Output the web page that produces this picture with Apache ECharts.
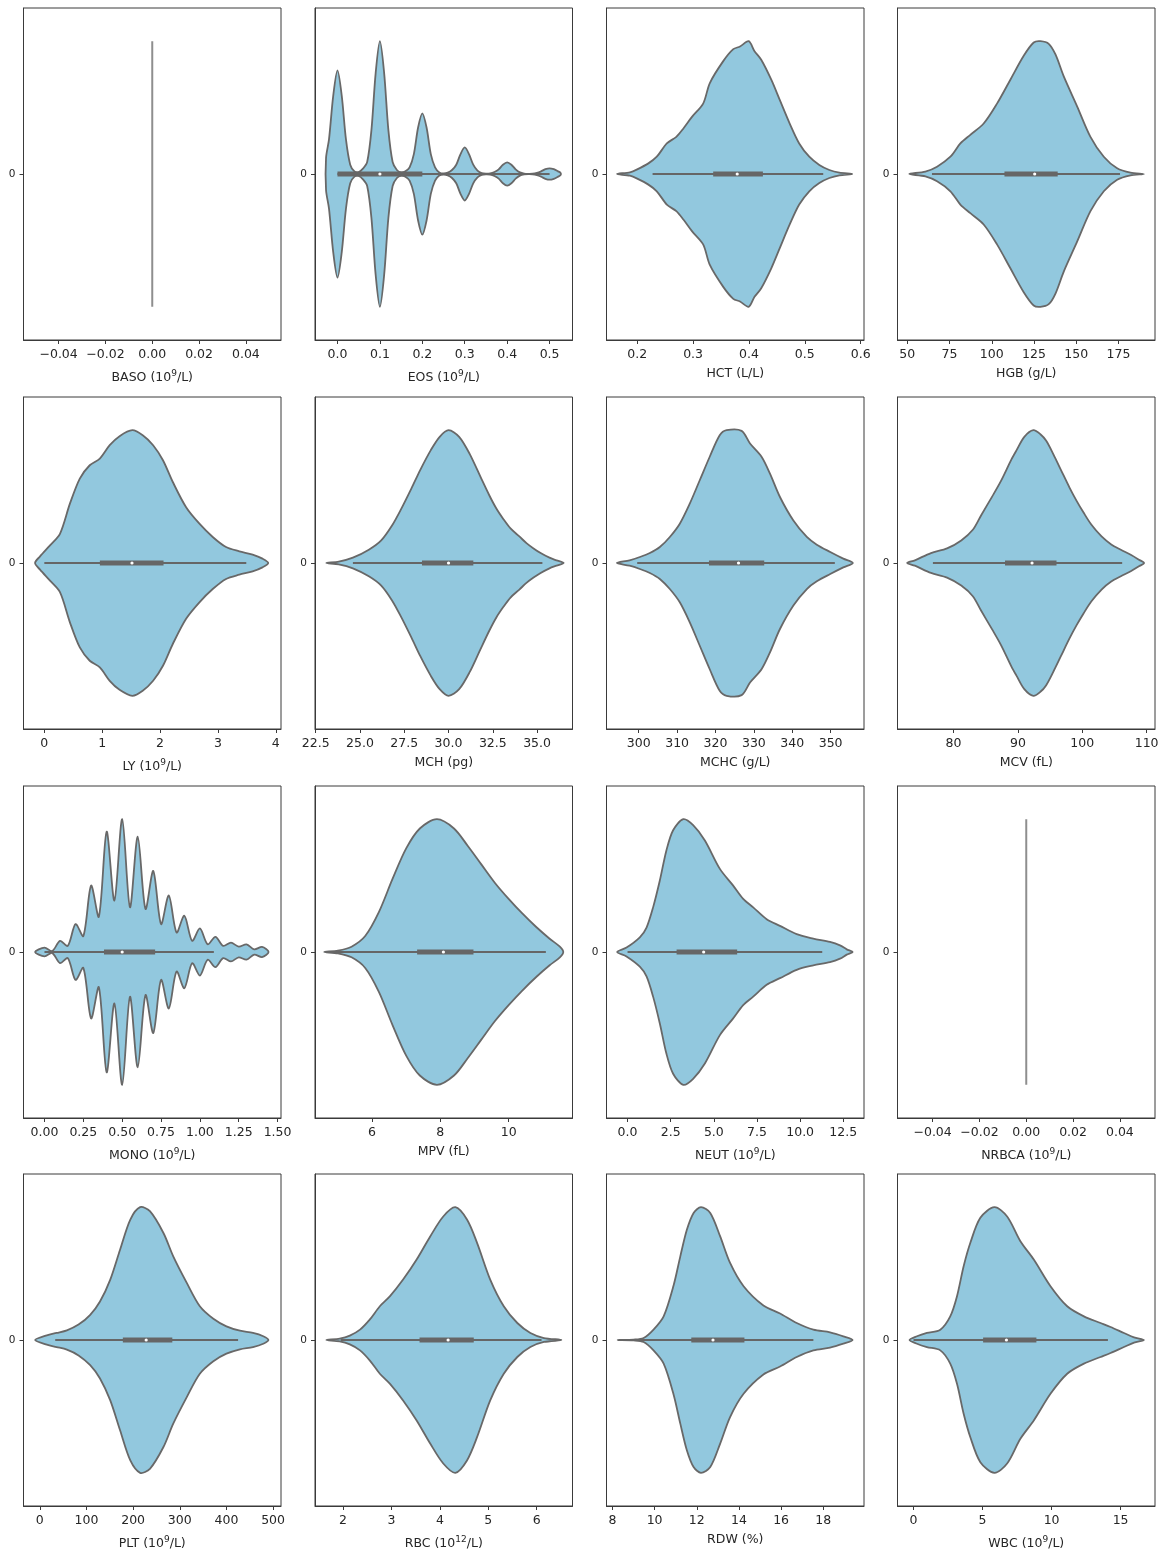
<!DOCTYPE html>
<html>
<head>
<meta charset="utf-8">
<script src="https://cdn.jsdelivr.net/npm/echarts@6/dist/echarts.min.js"></script>
<style>
  html, body { margin: 0; padding: 0; background: #ffffff; }
  #chart { width: 1167px; height: 1553px; }
</style>
</head>
<body>
<div id="chart"></div>
<script>
// ---- Blood count variables, one violin per panel (row-major order) ----
const variableNames = ['BASO', 'EOS', 'HCT', 'HGB', 'LY', 'MCH', 'MCHC', 'MCV',
                       'MONO', 'MPV', 'NEUT', 'NRBCA', 'PLT', 'RBC', 'RDW', 'WBC'];
const axisTitles = ['BASO (10⁹/L)', 'EOS (10⁹/L)', 'HCT (L/L)', 'HGB (g/L)',
                    'LY (10⁹/L)', 'MCH (pg)', 'MCHC (g/L)', 'MCV (fL)',
                    'MONO (10⁹/L)', 'MPV (fL)', 'NEUT (10⁹/L)', 'NRBCA (10⁹/L)',
                    'PLT (10⁹/L)', 'RBC (10¹²/L)', 'RDW (%)', 'WBC (10⁹/L)'];

// Axis limits and tick values of each panel
const axisRanges = [[-0.055, 0.055], [-0.053, 0.554], [0.145, 0.606], [44.2, 196.6],
                    [-0.36, 4.09], [22.46, 37.0], [291.6, 358.7], [71.3, 111.3],
                    [-0.135, 1.522], [4.33, 11.87], [-1.22, 13.7], [-0.055, 0.055],
                    [-35, 517], [1.42, 6.74], [7.72, 19.93], [-1.16, 17.49]];
const tickValues = [[-0.04, -0.02, 0, 0.02, 0.04], [0, 0.1, 0.2, 0.3, 0.4, 0.5],
                    [0.2, 0.3, 0.4, 0.5, 0.6], [50, 75, 100, 125, 150, 175],
                    [0, 1, 2, 3, 4], [22.5, 25, 27.5, 30, 32.5, 35],
                    [300, 310, 320, 330, 340, 350], [80, 90, 100, 110],
                    [0, 0.25, 0.5, 0.75, 1.0, 1.25, 1.5], [6, 8, 10],
                    [0, 2.5, 5, 7.5, 10, 12.5], [-0.04, -0.02, 0, 0.02, 0.04],
                    [0, 100, 200, 300, 400, 500], [2, 3, 4, 5, 6],
                    [8, 10, 12, 14, 16, 18], [0, 5, 10, 15]];
const tickDecimals = [2, 1, 1, 0, 0, 1, 0, 0, 2, 0, 1, 2, 0, 0, 0, 0];

// ---- Kernel density profiles: value positions and relative width (1 = widest) ----
const basoValues = [0];
const basoDensity = [1];

const eosValues = [-0.027, -0.02, -0.01, 0, 0.01, 0.02, 0.03, 0.04, 0.05, 0.06, 0.07, 0.08, 0.09,
                   0.10, 0.11, 0.12, 0.13, 0.14, 0.15, 0.16, 0.17, 0.18, 0.19, 0.20, 0.21, 0.22,
                   0.23, 0.24, 0.25, 0.26, 0.27, 0.28, 0.29, 0.30, 0.31, 0.32, 0.33, 0.34, 0.35,
                   0.36, 0.37, 0.38, 0.39, 0.40, 0.41, 0.42, 0.43, 0.44, 0.45, 0.46, 0.47, 0.48,
                   0.49, 0.50, 0.51, 0.52, 0.526];
const eosDensity = [0.12, 0.26, 0.59, 0.78, 0.59, 0.26, 0.07, 0.02, 0.015, 0.04, 0.09, 0.33, 0.76,
                    1.0, 0.76, 0.33, 0.09, 0.03, 0.012, 0.02, 0.05, 0.15, 0.35, 0.457, 0.35, 0.15,
                    0.05, 0.012, 0.004, 0.01, 0.03, 0.07, 0.15, 0.2, 0.15, 0.07, 0.025, 0.006, 0.002,
                    0.004, 0.015, 0.035, 0.07, 0.088, 0.07, 0.035, 0.012, 0.003, 0.001, 0.002, 0.008, 0.02,
                    0.036, 0.043, 0.036, 0.02, 0.008];

const hctValues = [0.164, 0.187, 0.2, 0.22, 0.235, 0.253, 0.27, 0.283, 0.298, 0.318, 0.33, 0.354,
                   0.372, 0.384, 0.3995, 0.41, 0.422, 0.44, 0.455, 0.473, 0.49, 0.508, 0.526,
                   0.544, 0.562, 0.585];
const hctDensity = [0, 0.013, 0.035, 0.08, 0.13, 0.23, 0.28, 0.345, 0.43, 0.53, 0.685, 0.85,
                    0.94, 0.96, 1.0, 0.925, 0.86, 0.71, 0.56, 0.38, 0.23, 0.13, 0.068,
                    0.03, 0.01, 0];

const hgbValues = [51.2, 60.7, 67.6, 75.5, 81.4, 87.3, 95.2, 103.1, 111, 118.9, 124.8, 128.8,
                   133.7, 137.7, 142.6, 150.5, 158.4, 166.3, 174.2, 182.1, 190];
const hgbDensity = [0, 0.018, 0.055, 0.13, 0.23, 0.295, 0.38, 0.53, 0.71, 0.89, 0.99, 1.0,
                    0.98, 0.9, 0.735, 0.51, 0.28, 0.13, 0.043, 0.01, 0];

const lyValues = [-0.16, -0.074, 0.098, 0.27, 0.442, 0.613, 0.785, 0.959, 1.13, 1.3, 1.52, 1.70,
                  1.88, 2.05, 2.22, 2.45, 2.68, 2.91, 3.14, 3.37, 3.6, 3.77, 3.87];
const lyDensity = [0, 0.05, 0.133, 0.22, 0.447, 0.636, 0.736, 0.786, 0.887, 0.955, 1.0, 0.962,
                   0.887, 0.774, 0.61, 0.42, 0.296, 0.196, 0.12, 0.088, 0.063, 0.033, 0];

const mchValues = [23.1, 23.8, 24.6, 25.5, 26.2, 26.8, 27.3, 27.9, 28.4, 29.0, 29.5, 30.0, 30.6,
                   31.2, 31.8, 32.3, 32.7, 33.1, 33.5, 34.0, 34.4, 34.8, 35.2, 35.7, 36.1, 36.5];
const mchDensity = [0, 0.01, 0.04, 0.1, 0.17, 0.28, 0.4, 0.56, 0.7, 0.85, 0.95, 1.0, 0.95,
                    0.82, 0.65, 0.51, 0.41, 0.33, 0.26, 0.2, 0.15, 0.11, 0.075, 0.04, 0.02, 0];

const mchcValues = [294.3, 297.6, 300.3, 302.9, 305.5, 308.1, 310.7, 313.3, 315.9, 318.5, 321.1,
                    322.9, 326.8, 329, 332, 334.2, 336.8, 340.3, 343.8, 346.4, 349.9, 353.3, 355.8];
const mchcDensity = [0, 0.02, 0.045, 0.075, 0.12, 0.196, 0.296, 0.447, 0.623, 0.8, 0.962,
                     1.0, 0.995, 0.9, 0.8, 0.673, 0.497, 0.32, 0.196, 0.138, 0.083, 0.033, 0];

const mcvValues = [72.8, 74, 76.5, 79, 81.2, 83, 84.3, 86, 87.4, 89, 89.8, 91, 92.4, 93.5, 94.4,
                   95.5, 96.7, 98, 99.1, 100.2, 101.4, 103, 104.5, 106, 107.6, 108.8, 109.6];
const mcvDensity = [0, 0.02, 0.075, 0.11, 0.17, 0.25, 0.36, 0.5, 0.62, 0.78, 0.85, 0.95, 1.0, 0.97,
                    0.92, 0.82, 0.7, 0.57, 0.47, 0.38, 0.29, 0.2, 0.14, 0.1, 0.06, 0.025, 0];

const monoValues = [-0.06, 0, 0.05, 0.1, 0.15, 0.2, 0.25, 0.3, 0.35, 0.4, 0.45, 0.5, 0.55, 0.6,
                    0.65, 0.7, 0.75, 0.8, 0.85, 0.9, 0.95, 1.0, 1.05, 1.1, 1.15, 1.2, 1.25, 1.3,
                    1.35, 1.4, 1.442];
const monoDensity = [0, 0.033, 0.008, 0.084, 0.046, 0.21, 0.12, 0.50, 0.266, 0.906, 0.387, 1.0,
                     0.337, 0.868, 0.324, 0.61, 0.21, 0.425, 0.147, 0.273, 0.084, 0.177, 0.058,
                     0.114, 0.046, 0.071, 0.04, 0.058, 0.02, 0.038, 0];

const mpvValues = [4.6, 5.0, 5.4, 5.8, 6.2, 6.6, 7.0, 7.4, 7.9, 8.4, 8.8, 9.2, 9.6, 10.0, 10.4,
                   10.8, 11.2, 11.5, 11.6];
const mpvDensity = [0, 0.01, 0.04, 0.12, 0.3, 0.55, 0.78, 0.93, 1.0, 0.93, 0.8, 0.66, 0.52, 0.4,
                    0.29, 0.19, 0.1, 0.04, 0];

const neutValues = [-0.6, -0.06, 0.71, 1.1, 1.48, 1.87, 2.25, 2.64, 3.23, 3.80, 4.48, 5.35, 6.12,
                    6.70, 7.28, 8.06, 8.83, 9.80, 10.76, 11.73, 12.31, 12.7, 13.04];
const neutDensity = [0, 0.033, 0.11, 0.184, 0.336, 0.538, 0.765, 0.917, 1.0, 0.955, 0.84, 0.626,
                     0.5, 0.4, 0.336, 0.247, 0.197, 0.134, 0.101, 0.076, 0.05, 0.02, 0];

const nrbcaValues = [0];
const nrbcaDensity = [1];

const pltValues = [-10, 15, 36, 58, 83, 108, 129, 151, 172, 194, 215, 236, 265, 286, 315, 343,
                   372, 400, 429, 457, 479, 490];
const pltDensity = [0, 0.035, 0.053, 0.073, 0.116, 0.19, 0.29, 0.455, 0.68, 0.907, 1.0, 0.97,
                    0.806, 0.63, 0.43, 0.254, 0.16, 0.103, 0.07, 0.053, 0.028, 0];

const rbcValues = [1.655, 1.93, 2.14, 2.35, 2.55, 2.76, 2.97, 3.24, 3.52, 3.80, 4.07, 4.32, 4.56,
                   4.77, 5.04, 5.32, 5.60, 5.87, 6.15, 6.51];
const rbcDensity = [0, 0.01, 0.033, 0.078, 0.153, 0.254, 0.33, 0.455, 0.606, 0.78, 0.93, 1.0,
                    0.907, 0.73, 0.455, 0.254, 0.128, 0.053, 0.015, 0];

const rdwValues = [8.25, 9.01, 9.48, 9.95, 10.43, 10.9, 11.22, 11.53, 11.85, 12.2, 12.64, 13.11,
                   13.58, 14.22, 15.16, 15.95, 16.74, 17.53, 18.32, 18.95, 19.39];
const rdwDensity = [0, 0.003, 0.015, 0.078, 0.178, 0.41, 0.63, 0.83, 0.957, 1.0, 0.957, 0.78,
                    0.58, 0.405, 0.26, 0.2, 0.128, 0.078, 0.058, 0.028, 0];

const wbcValues = [-0.29, 0.25, 0.97, 1.94, 2.66, 3.15, 3.63, 4.11, 4.84, 5.86, 6.78, 7.74, 8.71,
                   9.92, 11.13, 12.34, 13.55, 14.27, 15.24, 15.97, 16.69];
const wbcDensity = [0, 0.028, 0.053, 0.078, 0.178, 0.33, 0.555, 0.73, 0.92, 1.0, 0.93, 0.744,
                    0.606, 0.405, 0.254, 0.178, 0.128, 0.098, 0.053, 0.02, 0];

// ---- Box statistics: [lower whisker, Q1, median, Q3, upper whisker] ----
const eosBox = [0, 0, 0.1, 0.2, 0.5];
const hctBox = [0.2275, 0.336, 0.379, 0.425, 0.533];
const hgbBox = [64.6, 107.5, 125.4, 139, 175.9];
const lyBox = [0, 0.96, 1.515, 2.06, 3.49];
const mchBox = [24.6, 28.5, 30.0, 31.4, 35.3];
const mchcBox = [299.6, 318.3, 326, 332.7, 351.1];
const mcvBox = [76.8, 88, 92.2, 96, 106.2];
const monoBox = [0, 0.383, 0.5, 0.712, 1.09];
const mpvBox = [4.76, 7.32, 8.09, 8.97, 11.09];
const neutBox = [0, 2.84, 4.41, 6.35, 11.28];
const pltBox = [33, 178, 228, 284, 425];
const rbcBox = [1.95, 3.58, 4.17, 4.70, 6.1];
const rdwBox = [8.3, 11.74, 12.77, 14.26, 17.53];
const wbcBox = [0, 5.04, 6.73, 8.9, 14.08];

const panelValues = [basoValues, eosValues, hctValues, hgbValues, lyValues, mchValues, mchcValues,
                     mcvValues, monoValues, mpvValues, neutValues, nrbcaValues, pltValues,
                     rbcValues, rdwValues, wbcValues];
const panelDensity = [basoDensity, eosDensity, hctDensity, hgbDensity, lyDensity, mchDensity,
                      mchcDensity, mcvDensity, monoDensity, mpvDensity, neutDensity, nrbcaDensity,
                      pltDensity, rbcDensity, rdwDensity, wbcDensity];
const panelBoxes = [null, eosBox, hctBox, hgbBox, lyBox, mchBox, mchcBox, mcvBox,
                    monoBox, mpvBox, neutBox, null, pltBox, rbcBox, rdwBox, wbcBox];

// ---- Styling ----
const FONT = 'DejaVu Sans';
const TEXT = '#262626';
const FRAME = '#3a3a3a';
const FILL = '#92c8de';
const OUTLINE = '#686868';
const BOX_GRAY = '#666666';
const HALF_WIDTH = 0.4;          // widest violin point, in category-axis units

const colLeft = [23.5, 315, 606.5, 897.5];
const rowTop = [8, 397, 786, 1174];
const panelW = 257.5, panelH = 332;

const SUPERSCRIPTS = '⁰¹²³⁴⁵⁶⁷⁸⁹';

function fmtTick(v, d) {
  const s = Math.abs(v).toFixed(d);
  return (v < 0 && Number(s) !== 0 ? '\u2212' : '') + s;
}

// unit exponents are typeset as smaller raised digits
function richTitle(t) {
  return t.replace(/[⁰¹²³⁴⁵⁶⁷⁸⁹]+/g, (m) =>
    '{sup|' + m.split('').map((ch) => SUPERSCRIPTS.indexOf(ch)).join('') + '}');
}

const grids = [], xAxes = [], yAxes = [], series = [];

variableNames.forEach((name, i) => {
  const r = Math.floor(i / 4), c = i % 4;
  grids.push({
    left: colLeft[c], top: rowTop[r], width: panelW, height: panelH,
    show: true, borderColor: FRAME, borderWidth: 1, backgroundColor: '#ffffff',
    containLabel: false, outerBoundsMode: 'none'
  });
  const d = tickDecimals[i];
  const hasSup = /[⁰¹²³⁴⁵⁶⁷⁸⁹]/.test(axisTitles[i]);
  xAxes.push({
    type: 'value', gridIndex: i,
    min: axisRanges[i][0], max: axisRanges[i][1],
    name: richTitle(axisTitles[i]), nameLocation: 'middle', nameGap: hasSup ? 29.5 : 25.5,
    nameTextStyle: {
      fontFamily: FONT, fontSize: 12.5, color: TEXT, lineHeight: 16,
      rich: { sup: { fontFamily: FONT, fontSize: 9, color: TEXT, lineHeight: 8, verticalAlign: 'top' } }
    },
    axisLine: { show: true, onZero: false, lineStyle: { color: FRAME, width: 1 } },
    axisTick: { show: true, length: 4, customValues: tickValues[i], lineStyle: { color: FRAME, width: 1 } },
    axisLabel: {
      show: true, customValues: tickValues[i], margin: 8, hideOverlap: false,
      fontFamily: FONT, fontSize: 12.5, color: TEXT,
      formatter: (v) => fmtTick(v, d)
    },
    splitLine: { show: false }
  });
  yAxes.push({
    type: 'value', gridIndex: i, min: -0.5, max: 0.5,
    axisLine: { show: true, onZero: false, lineStyle: { color: FRAME, width: 1 } },
    axisTick: { show: true, length: 4, customValues: [0], lineStyle: { color: FRAME, width: 1 } },
    axisLabel: {
      show: true, customValues: [0], margin: 8,
      fontFamily: FONT, fontSize: 10.5, color: TEXT,
      formatter: () => '0'
    },
    splitLine: { show: false }
  });

  const xs = panelValues[i], ws = panelDensity[i];
  // violin body
  series.push({
    type: 'custom', name: name, xAxisIndex: i, yAxisIndex: i,
    silent: true, clip: false, z: 2,
    data: xs.map((x, k) => [x, ws[k]]),
    renderItem: function (params, api) {
      if (params.dataIndex !== 0) return null;
      const n = xs.length;
      if (n === 1) {
        // all observations share one value: a single line across the violin width
        const a = api.coord([api.value(0, 0), HALF_WIDTH * api.value(1, 0)]);
        const b = api.coord([api.value(0, 0), -HALF_WIDTH * api.value(1, 0)]);
        return { type: 'line', shape: { x1: a[0], y1: a[1], x2: b[0], y2: b[1] },
                 style: { stroke: '#8e8e8e', lineWidth: 2 } };
      }
      const pts = [];
      for (let k = 0; k < n; k++) {
        pts.push(api.coord([api.value(0, k), HALF_WIDTH * api.value(1, k)]));
      }
      for (let k = n - 1; k >= 0; k--) {
        const w = api.value(1, k);
        if (w > 0) pts.push(api.coord([api.value(0, k), -HALF_WIDTH * w]));
      }
      return { type: 'polygon', shape: { points: pts, smooth: 0.3 },
               style: { fill: FILL, stroke: OUTLINE, lineWidth: 1.8, lineJoin: 'round' } };
    }
  });
  // inner box plot
  const bx = panelBoxes[i];
  if (bx) {
    series.push({
      type: 'custom', name: name + ' box', xAxisIndex: i, yAxisIndex: i,
      silent: true, clip: false, z: 3,
      data: [bx],
      encode: { x: [0, 1, 2, 3, 4] },
      renderItem: function (params, api) {
        const lo = api.coord([api.value(0), 0]);
        const q1 = api.coord([api.value(1), 0]);
        const md = api.coord([api.value(2), 0]);
        const q3 = api.coord([api.value(3), 0]);
        const hi = api.coord([api.value(4), 0]);
        return { type: 'group', children: [
          { type: 'line', shape: { x1: lo[0], y1: lo[1], x2: hi[0], y2: hi[1] },
            style: { stroke: BOX_GRAY, lineWidth: 1.8 } },
          { type: 'line', shape: { x1: q1[0], y1: q1[1], x2: q3[0], y2: q3[1] },
            style: { stroke: BOX_GRAY, lineWidth: 5, lineCap: 'butt' } },
          { type: 'circle', shape: { cx: md[0], cy: md[1], r: 1.6 },
            style: { fill: '#ffffff' } }
        ] };
      }
    });
  }
});

const chart = echarts.init(document.getElementById('chart'), null, { renderer: 'canvas' });
chart.setOption({
  animation: false,
  backgroundColor: '#ffffff',
  grid: grids,
  xAxis: xAxes,
  yAxis: yAxes,
  series: series
});
</script>
</body>
</html>
